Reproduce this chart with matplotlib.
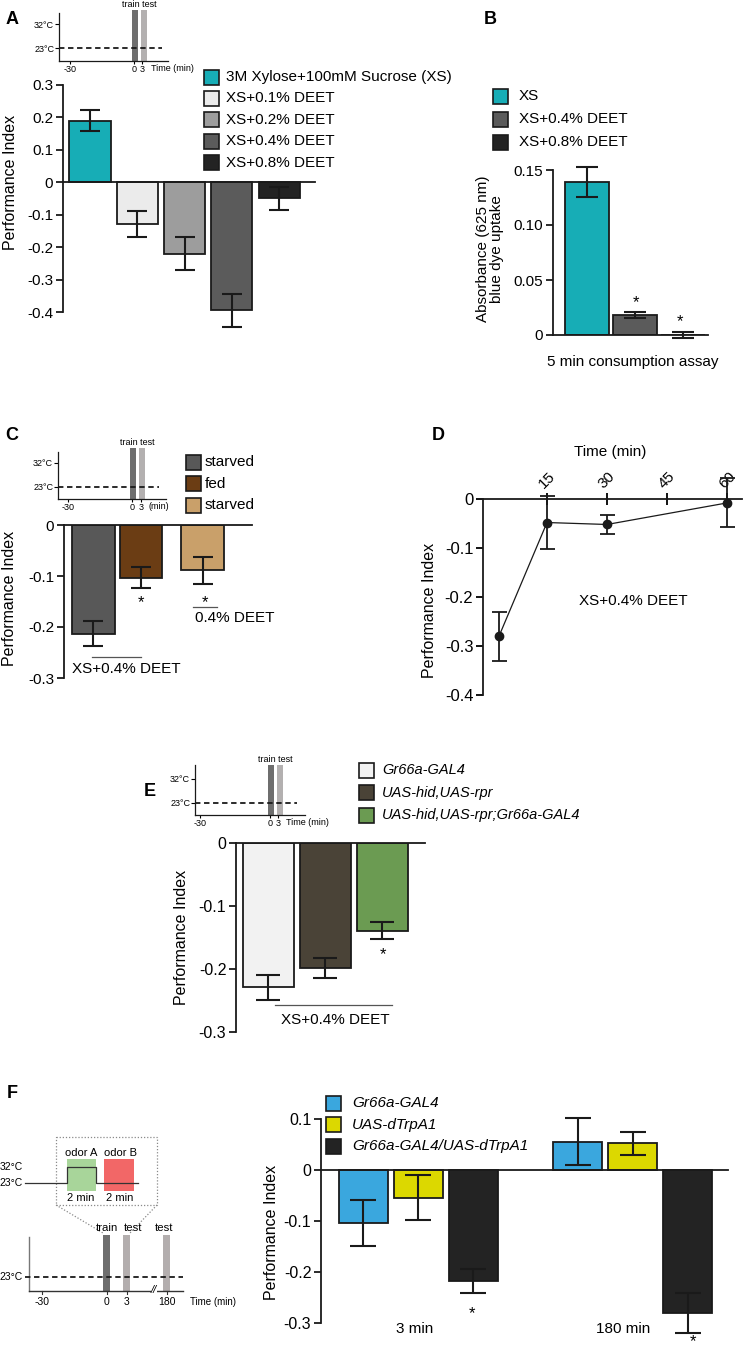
import matplotlib
matplotlib.use("Agg")
import matplotlib.pyplot as plt
import numpy as np
from matplotlib.patches import Rectangle

plt.rcParams['font.family'] = ['Liberation Sans', 'DejaVu Sans']
plt.rcParams['axes.unicode_minus'] = False

W, H = 744, 1350
INK = '#1a1a1a'

# ---- data ----
# A: performance index, xylose/sucrose with DEET
a_labels = ["3M Xylose+100mM Sucrose (XS)", "XS+0.1% DEET", "XS+0.2% DEET",
            "XS+0.4% DEET", "XS+0.8% DEET"]
a_pi = [0.19, -0.13, -0.22, -0.395, -0.05]
a_err = [0.032, 0.04, 0.05, 0.05, 0.037]
a_colors = ['#17adb6', '#ebebeb', '#9d9d9d', '#5b5b5b', '#232323']

# B: blue dye uptake
b_labels = ["XS", "XS+0.4% DEET", "XS+0.8% DEET"]
b_abs = [0.139, 0.018, 0.0]
b_err = [0.0135, 0.0025, 0.0027]
b_colors = ['#17adb6', '#5b5b5b', '#232323']

# C: starved / fed
c_labels = ["starved", "fed", "starved"]
c_pi = [-0.213, -0.103, -0.089]
c_err = [0.025, 0.02, 0.027]
c_colors = ['#585858', '#6b3d14', '#c9a06a']

# D: time course
d_time = [3, 15, 30, 60]
d_pi = [-0.28, -0.048, -0.052, -0.008]
d_err = [0.05, 0.054, 0.02, 0.05]

# E: genetic ablation
e_labels = ["Gr66a-GAL4", "UAS-hid,UAS-rpr", "UAS-hid,UAS-rpr;Gr66a-GAL4"]
e_pi = [-0.229, -0.198, -0.139]
e_err = [0.02, 0.016, 0.013]
e_colors = ['#f2f2f2', '#4a4337', '#6b9b52']

# F: dTrpA1 activation
f_groups = ["3 min", "180 min"]
f_labels = ["Gr66a-GAL4", "UAS-dTrpA1", "Gr66a-GAL4/UAS-dTrpA1"]
f_pi = [[-0.104, -0.054, -0.218], [0.055, 0.052, -0.281]]
f_err = [[0.045, 0.045, 0.024], [0.046, 0.022, 0.039]]
f_colors = ['#3aa7de', '#dcd800', '#232323']


def px_box(l, t, r, b):
    return [l / W, 1 - b / H, (r - l) / W, (b - t) / H]


def fmt_tick(v):
    return f"{v:g}"


def style_bar_axis(ax, yticks, labels, size):
    for s in ['top', 'right']:
        ax.spines[s].set_visible(False)
    ax.spines['left'].set_linewidth(1.3)
    ax.spines['bottom'].set_linewidth(1.3)
    ax.spines['left'].set_color(INK)
    ax.spines['bottom'].set_color(INK)
    ax.spines['bottom'].set_position(('data', 0))
    ax.set_yticks(yticks)
    ax.set_yticklabels(labels)
    ax.tick_params(axis='y', direction='out', length=5, width=1.3, labelsize=size, pad=2, color=INK)
    ax.tick_params(axis='x', bottom=False, labelbottom=False)
    ax.patch.set_alpha(0)


def draw_bars(ax, x, vals, errs, colors, width, capsize):
    ax.bar(x, vals, width, color=colors, edgecolor=INK, linewidth=1.3, zorder=2)
    eb = ax.errorbar(x, vals, yerr=errs, fmt='none', ecolor=INK, elinewidth=1.5,
                     capsize=capsize, capthick=1.5, zorder=3)
    for art in eb.get_children():
        art.set_clip_on(False)


def protocol(l, t, r, b, xt, train, test, band_top, y32, y23, dash_end, time_text, time_x):
    ax = fig.add_axes(px_box(l, t, r, b))
    ax.set_xlim(l, r)
    ax.set_ylim(b, t)
    ax.patch.set_alpha(0)
    for s in ['top', 'right']:
        ax.spines[s].set_visible(False)
    for s in ['left', 'bottom']:
        ax.spines[s].set_linewidth(0.9)
        ax.spines[s].set_color(INK)
    ax.set_yticks([y32, y23])
    ax.set_yticklabels(['32°C', '23°C'])
    ax.set_xticks(xt)
    ax.set_xticklabels(['-30', '0', '3'])
    ax.tick_params(axis='y', length=3, width=0.8, labelsize=6.5, pad=0.5)
    ax.tick_params(axis='x', length=2, width=0.8, labelsize=6.5, pad=1)
    for (x0, x1), c in zip([train, test], ['#6e6e6e', '#b3b0b0']):
        ax.add_patch(Rectangle((x0, b), x1 - x0, band_top - b, fc=c, ec='none',
                               clip_on=False, zorder=1))
    ax.plot([l, dash_end], [y23, y23], color=INK, lw=1.3, ls=(0, (3, 2)), zorder=2)
    ax.text((train[0] + test[1]) / 2, band_top - 1, 'train test', ha='center', va='bottom',
            fontsize=6.5)
    ax.text(time_x, b + 3, time_text, ha='left', va='top', fontsize=6.5)
    return ax


fig = plt.figure(figsize=(W / 100, H / 100), dpi=100)

ov = fig.add_axes([0, 0, 1, 1], zorder=10)
ov.set_xlim(0, W)
ov.set_ylim(H, 0)
ov.axis('off')


def legend(x, y0, step, labels, colors, size, tx, italic=False):
    for i, (lab, c) in enumerate(zip(labels, colors)):
        y = y0 + i * step
        ov.add_patch(Rectangle((x, y - 7.5), 15, 15, fc=c, ec=INK, lw=1.2))
        ov.text(tx, y, lab, ha='left', va='center', fontsize=size,
                style='italic' if italic else 'normal')


def ylab(x, y, text, size=11.5):
    ov.text(x, y, text, rotation=90, ha='center', va='center', fontsize=size)


# ---------------- Panel A ----------------
ov.text(12, 19, 'A', fontsize=13, fontweight='bold', ha='center', va='center')
protocol(59, 13, 168, 61, [70, 134, 142], (132, 138), (141, 147), 10, 24, 48, 162,
         'Time (min)', 151)
axA = fig.add_axes(px_box(63, 85, 315, 312))
axA.set_xlim(-0.57, 4.76)
axA.set_ylim(-0.4, 0.3)
a_ticks = [0.3, 0.2, 0.1, 0, -0.1, -0.2, -0.3, -0.4]
style_bar_axis(axA, a_ticks, [fmt_tick(v) for v in a_ticks], 11)
draw_bars(axA, np.arange(len(a_pi)), a_pi, a_err, a_colors, 0.87, 7.5)
ylab(11, 182, 'Performance Index')
legend(204, 77, 21.4, a_labels, a_colors, 11, 226)

# ---------------- Panel B ----------------
ov.text(490, 19, 'B', fontsize=13, fontweight='bold', ha='center', va='center')
axB = fig.add_axes(px_box(553, 170, 708, 335))
axB.set_xlim(-0.71, 2.52)
axB.set_ylim(0, 0.15)
b_ticks = [0, 0.05, 0.10, 0.15]
style_bar_axis(axB, b_ticks, ['0', '0.05', '0.10', '0.15'], 11)
draw_bars(axB, np.arange(len(b_abs)), b_abs, b_err, b_colors, 0.92, 7.9)
ov.text(490, 249, 'Absorbance (625 nm)\nblue dye uptake', rotation=90, ha='center',
        va='center', fontsize=11, linespacing=0.95)
ov.text(633, 362, '5 min consumption assay', ha='center', va='center', fontsize=11)
ov.text(636, 303, '*', ha='center', va='center', fontsize=12)
ov.text(680, 322, '*', ha='center', va='center', fontsize=12)
legend(493, 96, 23.2, b_labels, b_colors, 11, 519)

# ---------------- Panel C ----------------
ov.text(12, 435, 'C', fontsize=13, fontweight='bold', ha='center', va='center')
protocol(58, 452, 166, 499, [68, 132, 141], (130, 136), (139, 145), 448, 463, 487, 159,
         '(min)', 148)
axC = fig.add_axes(px_box(64, 525, 252, 678))
axC.set_xlim(-0.62, 3.34)
axC.set_ylim(-0.3, 0)
c_ticks = [0, -0.1, -0.2, -0.3]
style_bar_axis(axC, c_ticks, [fmt_tick(v) for v in c_ticks], 11)
draw_bars(axC, [0, 1, 2.3], c_pi, c_err, c_colors, 0.9, 7.5)
ylab(10, 598, 'Performance Index')
legend(186, 462, 21.5, c_labels, c_colors, 11, 205)
ov.text(141, 603, '*', ha='center', va='center', fontsize=12)
ov.text(205, 603, '*', ha='center', va='center', fontsize=12)
ov.plot([193, 217], [607, 607], color='#555555', lw=0.9)
ov.text(195, 618, '0.4% DEET', ha='left', va='center', fontsize=11)
ov.plot([92, 141], [657, 657], color='#555555', lw=0.9)
ov.text(72, 669, 'XS+0.4% DEET', ha='left', va='center', fontsize=11)

# ---------------- Panel D ----------------
ov.text(438, 435, 'D', fontsize=13, fontweight='bold', ha='center', va='center')
axD = fig.add_axes(px_box(483, 499, 742, 695))
axD.patch.set_alpha(0)
axD.set_xlim(-1, 63.75)
axD.set_ylim(-0.4, 0)
for s in ['bottom', 'right']:
    axD.spines[s].set_visible(False)
for s in ['left', 'top']:
    axD.spines[s].set_linewidth(1.3)
    axD.spines[s].set_color(INK)
axD.xaxis.set_ticks_position('top')
axD.set_xticks([15, 30, 45, 60])
axD.set_xticklabels(['15', '30', '45', '60'], rotation=45)
axD.tick_params(axis='x', direction='inout', length=9, width=1.3, labelsize=11, pad=1)
d_ticks = [0, -0.1, -0.2, -0.3, -0.4]
axD.set_yticks(d_ticks)
axD.set_yticklabels([fmt_tick(v) for v in d_ticks])
axD.tick_params(axis='y', direction='out', length=5, width=1.3, labelsize=12, pad=2)
ebD = axD.errorbar(d_time, d_pi, yerr=d_err, fmt='-o', color=INK, lw=0.9, ms=6,
                   ecolor=INK, elinewidth=1.3, capsize=5.4, capthick=1.3, zorder=3)
for art in ebD.get_children():
    art.set_clip_on(False)
ov.text(610, 452, 'Time (min)', ha='center', va='center', fontsize=11)
ov.text(633, 601, 'XS+0.4% DEET', ha='center', va='center', fontsize=11)
ylab(429, 610, 'Performance Index')

# ---------------- Panel E ----------------
ov.text(150, 791, 'E', fontsize=13, fontweight='bold', ha='center', va='center')
protocol(195, 765, 305, 815, [200, 270, 278], (268, 274), (277, 283), 765, 779, 803, 297,
         'Time (min)', 286)
axE = fig.add_axes(px_box(236, 843, 425, 1032))
axE.set_xlim(-0.57, 2.75)
axE.set_ylim(-0.3, 0)
e_ticks = [0, -0.1, -0.2, -0.3]
style_bar_axis(axE, e_ticks, [fmt_tick(v) for v in e_ticks], 11.5)
draw_bars(axE, np.arange(len(e_pi)), e_pi, e_err, e_colors, 0.9, 8.6)
ylab(182, 937, 'Performance Index')
legend(359, 770, 22.5, e_labels, e_colors, 10.5, 382, italic=True)
ov.text(383, 955, '*', ha='center', va='center', fontsize=12)
ov.plot([275, 392], [1005, 1005], color='#555555', lw=0.9)
ov.text(335, 1020, 'XS+0.4% DEET', ha='center', va='center', fontsize=11)

# ---------------- Panel F ----------------
ov.text(12, 1093, 'F', fontsize=13, fontweight='bold', ha='center', va='center')
# protocol schematic (decoration)
dot = (0, (1, 1.5))
ov.add_patch(Rectangle((56, 1137), 101, 68, fill=False, ls=dot, ec='#8a8a8a', lw=0.9))
ov.plot([56, 103], [1205, 1233], ls=dot, color='#8a8a8a', lw=0.9)
ov.plot([157, 130], [1205, 1233], ls=dot, color='#8a8a8a', lw=0.9)
ov.add_patch(Rectangle((67, 1159), 29, 32, fc='#a8d59a', ec='none'))
ov.add_patch(Rectangle((104, 1159), 30, 32, fc='#f26767', ec='none'))
ov.plot([25, 67, 67, 96, 96, 138], [1183, 1183, 1167, 1167, 1183, 1183], color='#333333', lw=0.9)
for x, s in [(81, 'odor A'), (120, 'odor B')]:
    ov.text(x, 1153, s, ha='center', va='center', fontsize=8)
    ov.text(x, 1198, '2 min', ha='center', va='center', fontsize=8)
ov.text(23, 1167, '32°C', ha='right', va='center', fontsize=7.5)
ov.text(23, 1183, '23°C', ha='right', va='center', fontsize=7.5)
ov.plot([29, 29], [1237, 1291], color='#777777', lw=1)
ov.plot([29, 183], [1291, 1291], color='#333333', lw=1)
for x0, c in [(103, '#6e6e6e'), (123, '#b3aeae'), (163, '#b3aeae')]:
    ov.add_patch(Rectangle((x0, 1235), 7, 56, fc=c, ec='none'))
ov.plot([25, 183], [1277, 1277], color=INK, lw=1.3, ls=(0, (3, 2)))
ov.text(23, 1277, '23°C', ha='right', va='center', fontsize=7.5)
for x, s in [(107, 'train'), (133, 'test'), (164, 'test')]:
    ov.text(x, 1228, s, ha='center', va='center', fontsize=8.2)
for x, s in [(42, '-30'), (107, '0'), (127, '3'), (167, '180')]:
    ov.plot([x, x], [1291, 1294], color='#333333', lw=0.8)
    ov.text(x, 1302, s, ha='center', va='center', fontsize=7.5)
ov.text(154, 1290, '//', ha='center', va='center', fontsize=8, style='italic',
        bbox=dict(fc='white', ec='none', pad=0.2))
ov.text(190, 1302, 'Time (min)', ha='left', va='center', fontsize=7)

axF = fig.add_axes(px_box(321, 1119, 728, 1323))
axF.set_xlim(-0.77, 6.63)
axF.set_ylim(-0.3, 0.1)
f_ticks = [0.1, 0, -0.1, -0.2, -0.3]
style_bar_axis(axF, f_ticks, [fmt_tick(v) for v in f_ticks], 11.5)
for g in range(len(f_groups)):
    xs = g * 3.9 + np.arange(len(f_labels))
    draw_bars(axF, xs, f_pi[g], f_err[g], f_colors, 0.89, 9.7)
ylab(271, 1232, 'Performance Index')
legend(326, 1103, 21.5, f_labels, f_colors, 11, 352, italic=True)
ov.text(415, 1329, f_groups[0], ha='center', va='center', fontsize=11)
ov.text(623, 1329, f_groups[1], ha='center', va='center', fontsize=11)
ov.text(472, 1314, '*', ha='center', va='center', fontsize=12)
ov.text(693, 1349, '*', ha='center', va='bottom', fontsize=12)

fig.savefig('out.png', dpi=100)
